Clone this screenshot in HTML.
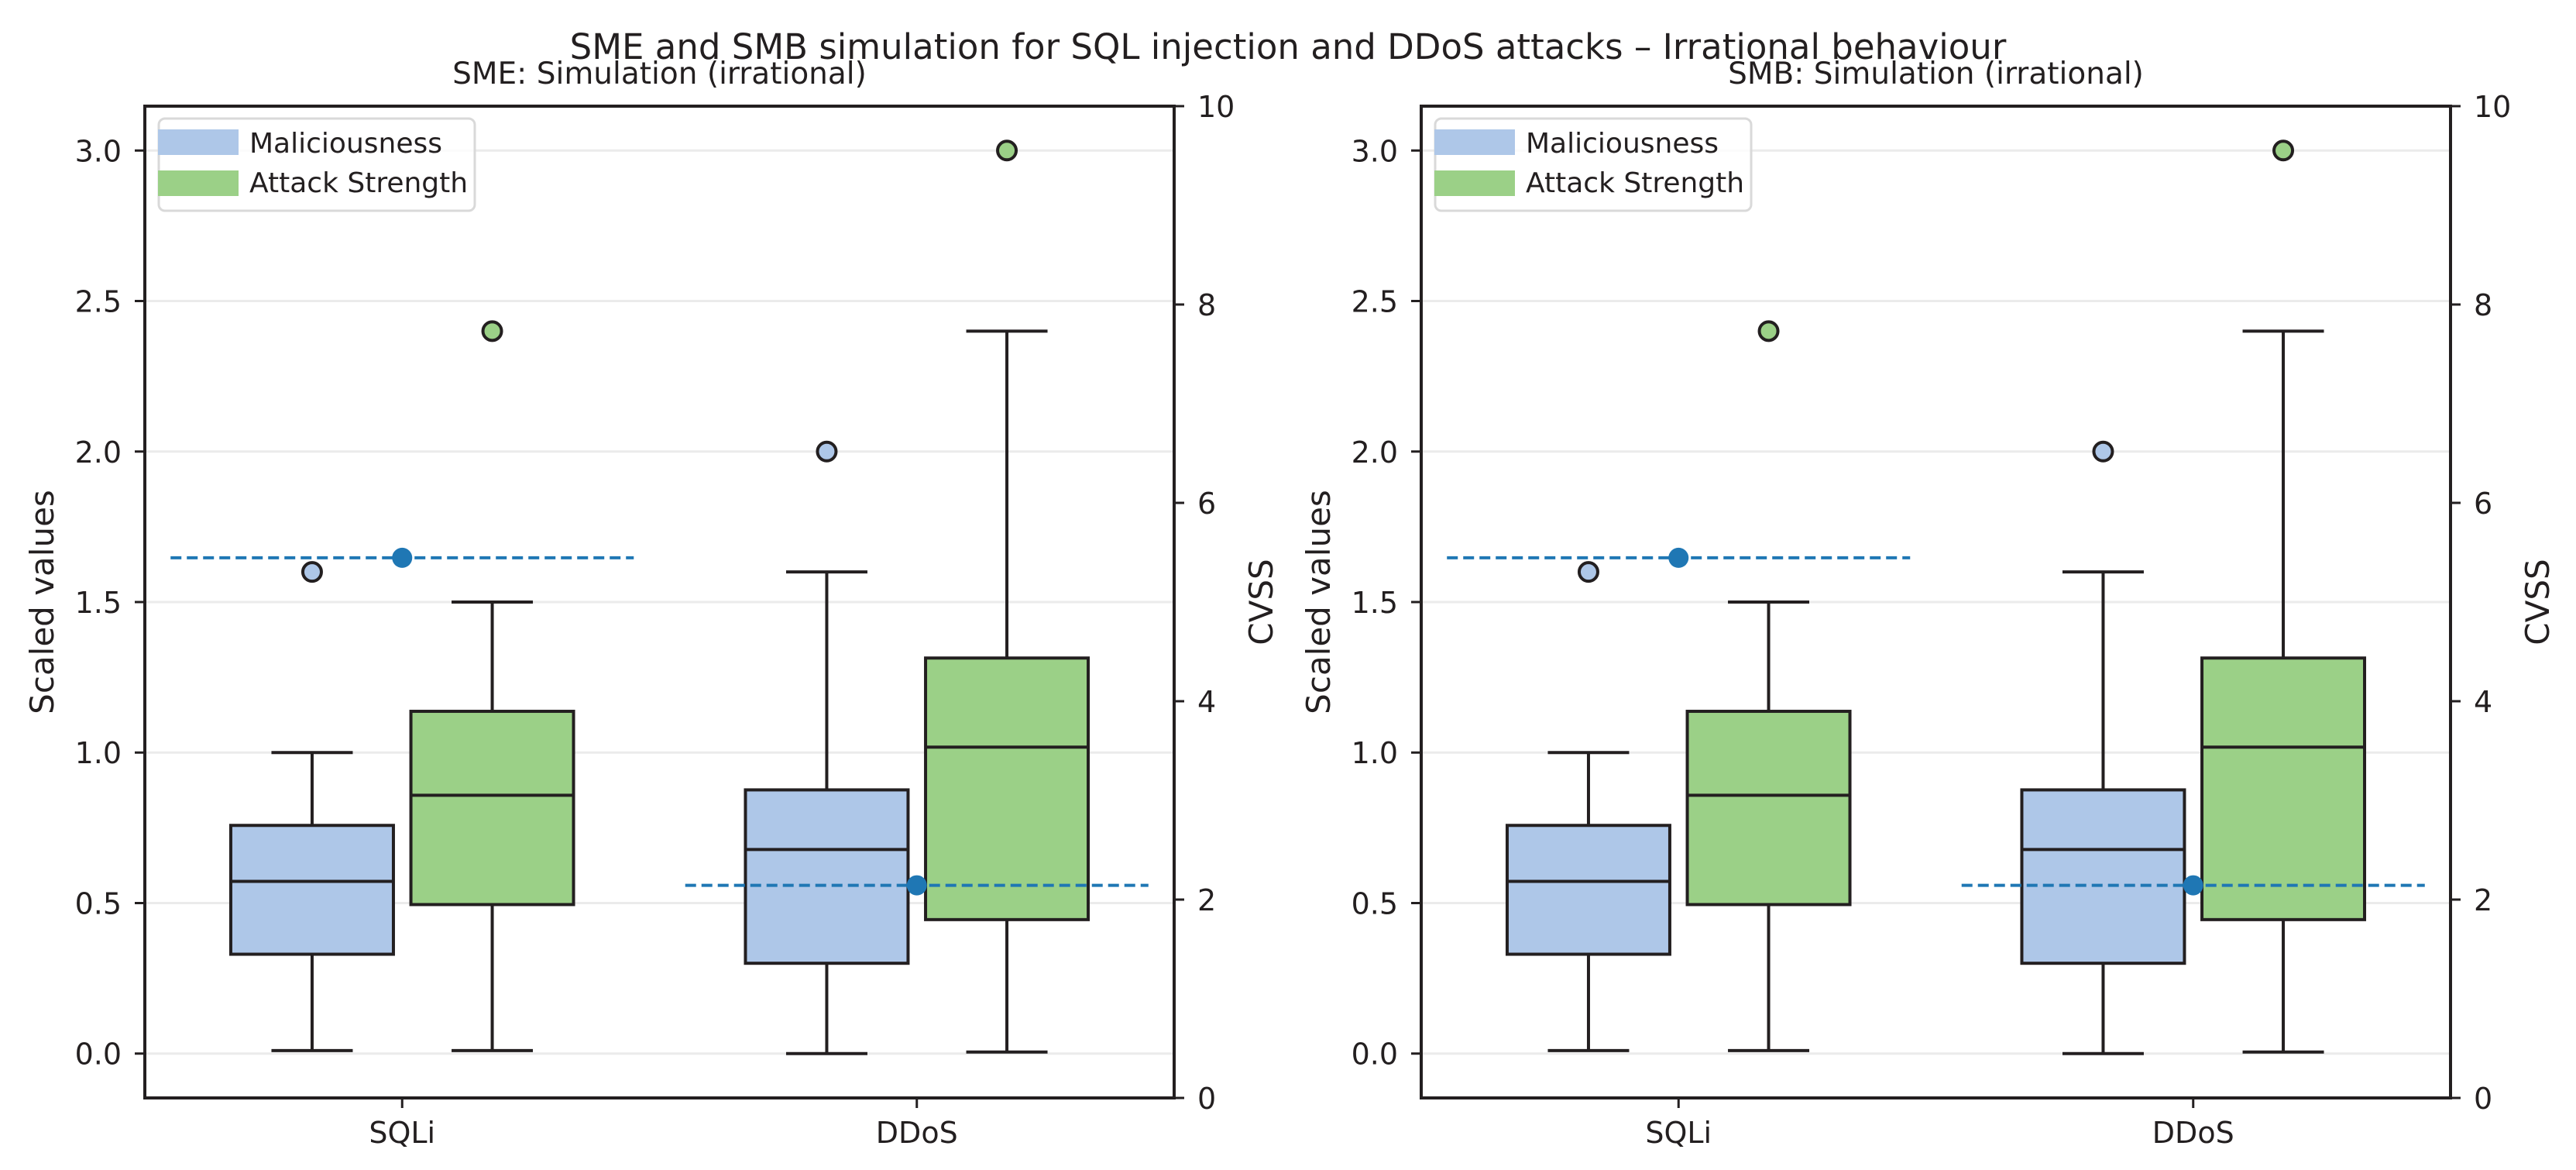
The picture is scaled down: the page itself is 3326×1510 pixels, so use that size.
<!DOCTYPE html>
<html><head><meta charset="utf-8"><style>
html,body{margin:0;padding:0;background:#fff;}
svg{display:block;font-family:"DejaVu Sans","Liberation Sans",sans-serif;}
</style></head><body>
<svg id="fig" width="3326" height="1510" viewBox="0 0 3326 1510" xmlns="http://www.w3.org/2000/svg">
<text x="1663" y="76" font-size="45" text-anchor="middle" fill="#231f20">SME and SMB simulation for SQL injection and DDoS attacks – Irrational behaviour</text>
</svg>
<script>
const categories = ["SQLi", "DDoS"];
const seriesNames = ["Maliciousness", "Attack Strength"];
const malWhiskLow = [0.01, 0.0];
const malQ1 = [0.33, 0.30];
const malMedian = [0.572, 0.678];
const malQ3 = [0.758, 0.876];
const malWhiskHigh = [1.0, 1.6];
const malOutliers = [[1.6], [2.0]];
const asWhiskLow = [0.01, 0.005];
const asQ1 = [0.495, 0.445];
const asMedian = [0.858, 1.018];
const asQ3 = [1.137, 1.314];
const asWhiskHigh = [1.5, 2.4];
const asOutliers = [[2.4], [3.0]];
const cvssScaled = [1.647, 0.559];
const leftTicks = [0.0, 0.5, 1.0, 1.5, 2.0, 2.5, 3.0];
const leftTickLabels = ["0.0", "0.5", "1.0", "1.5", "2.0", "2.5", "3.0"];
const rightTicks = [0, 2, 4, 6, 8, 10];
const rightTickLabels = ["0", "2", "4", "6", "8", "10"];
const panelTitles = ["SME: Simulation (irrational)", "SMB: Simulation (irrational)"];
const panelKeys = ["sme", "smb"];

const NS = "http://www.w3.org/2000/svg";
const svg = document.getElementById("fig");
const INK = "#231f20";
function mk(tag, attrs, parent, text) {
  const e = document.createElementNS(NS, tag);
  for (const k in attrs) e.setAttribute(k, attrs[k]);
  if (text !== undefined) e.textContent = text;
  (parent || svg).appendChild(e);
  return e;
}
const TOP = 137, BOT = 1417, AXW = 1329;
const YMIN = -0.1474, YMAX = 3.1474;
function yS(v) { return BOT - (v - YMIN) / (YMAX - YMIN) * (BOT - TOP); }
function yR(v) { return BOT - v / 10 * (BOT - TOP); }

panelKeys.forEach((key, p) => {
  const L = 187 + p * 1648, R = L + AXW;
  function xS(v) { return L + (v + 0.5) / 2 * AXW; }
  const g = mk("g", {});
  
  
  // grid
  leftTicks.forEach((t, i) => {
    const gl = mk("line", {x1: L, x2: R, y1: yS(t), y2: yS(t), stroke: "#ebebeb", "stroke-width": 3}, g);
    
    
  });
  // boxes
  const groups = [
    {off: -0.175, fill: "#aec7e8", lo: malWhiskLow, q1: malQ1, med: malMedian, q3: malQ3, hi: malWhiskHigh, out: malOutliers, nm: "maliciousness"},
    {off: 0.175, fill: "#9bd087", lo: asWhiskLow, q1: asQ1, med: asMedian, q3: asQ3, hi: asWhiskHigh, out: asOutliers, nm: "attack-strength"}
  ];
  categories.forEach((c, ci) => {
    groups.forEach(s => {
      const cx = xS(ci + s.off), hw = 0.158 * AXW / 2, cw = hw / 2;
      const bg = mk("g", {}, g);
      
      
      mk("line", {x1: cx, x2: cx, y1: yS(s.q3[ci]), y2: yS(s.hi[ci]), stroke: INK, "stroke-width": 4}, bg);
      mk("line", {x1: cx, x2: cx, y1: yS(s.q1[ci]), y2: yS(s.lo[ci]), stroke: INK, "stroke-width": 4}, bg);
      mk("line", {x1: cx - cw, x2: cx + cw, y1: yS(s.hi[ci]), y2: yS(s.hi[ci]), stroke: INK, "stroke-width": 4}, bg);
      mk("line", {x1: cx - cw, x2: cx + cw, y1: yS(s.lo[ci]), y2: yS(s.lo[ci]), stroke: INK, "stroke-width": 4}, bg);
      mk("rect", {x: cx - hw, y: yS(s.q3[ci]), width: 2 * hw, height: yS(s.q1[ci]) - yS(s.q3[ci]), fill: s.fill, stroke: INK, "stroke-width": 4}, bg);
      mk("line", {x1: cx - hw, x2: cx + hw, y1: yS(s.med[ci]), y2: yS(s.med[ci]), stroke: INK, "stroke-width": 4}, bg);
      s.out[ci].forEach(o => {
        const oc = mk("circle", {cx: cx, cy: yS(o), r: 12, fill: s.fill, stroke: INK, "stroke-width": 4}, bg);
        
        
      });
    });
    // CVSS dashed line + dot
    const ln = mk("line", {x1: xS(ci - 0.45), x2: xS(ci + 0.45), y1: yS(cvssScaled[ci]), y2: yS(cvssScaled[ci]), stroke: "#1f77b4", "stroke-width": 4, "stroke-dasharray": "14 7"}, g);
    
    
    const dt = mk("circle", {cx: xS(ci), cy: yS(cvssScaled[ci]), r: 13, fill: "#1f77b4"}, g);
    
    
    // x tick
    mk("line", {x1: xS(ci), x2: xS(ci), y1: BOT, y2: BOT + 13, stroke: INK, "stroke-width": 3}, g);
    const xl = mk("text", {x: xS(ci), y: 1475, "font-size": 38, "text-anchor": "middle", fill: INK}, g, c);
    
    
  });
  // spines
  const sp = mk("rect", {x: L, y: TOP, width: AXW, height: BOT - TOP, fill: "none", stroke: INK, "stroke-width": 4}, g);
  
  
  // left ticks
  leftTicks.forEach((t, i) => {
    mk("line", {x1: L - 13, x2: L, y1: yS(t), y2: yS(t), stroke: INK, "stroke-width": 3}, g);
    const tl = mk("text", {x: L - 30, y: yS(t) + 14, "font-size": 38, "text-anchor": "end", fill: INK}, g, leftTickLabels[i]);
    
    
  });
  // right ticks
  rightTicks.forEach((t, i) => {
    mk("line", {x1: R, x2: R + 13, y1: yR(t), y2: yR(t), stroke: INK, "stroke-width": 3}, g);
    const tl = mk("text", {x: R + 30, y: yR(t) + 14, "font-size": 38, fill: INK}, g, rightTickLabels[i]);
    
    
  });
  // axis labels
  const yl = mk("text", {x: 0, y: 0, "font-size": 42, "text-anchor": "middle", fill: INK, transform: `translate(${L - 118},777) rotate(-90)`}, g, "Scaled values");
  
  
  const rl = mk("text", {x: 0, y: 0, "font-size": 42, "text-anchor": "middle", fill: INK, transform: `translate(${R + 127},777) rotate(-90)`}, g, "CVSS");
  
  
  // subtitle
  const st = mk("text", {x: L + AXW / 2, y: 108, "font-size": 39, "text-anchor": "middle", fill: INK}, g, panelTitles[p]);
  
  
  // legend
  const lg = mk("g", {}, g);
  
  
  mk("rect", {x: L + 18, y: 153, width: 408, height: 119, rx: 8, fill: "#fff", "fill-opacity": 0.8, stroke: "#d9d9d9", "stroke-width": 3}, lg);
  [["#aec7e8", 167, 197], ["#9bd087", 220, 248]].forEach((e, i) => {
    const le = mk("g", {}, lg);
    
    
    mk("rect", {x: L + 17, y: e[1], width: 104, height: 33, fill: e[0]}, le);
    mk("text", {x: L + 135, y: e[2], "font-size": 36, fill: INK}, le, seriesNames[i]);
  });
});
</script>
</body></html>
